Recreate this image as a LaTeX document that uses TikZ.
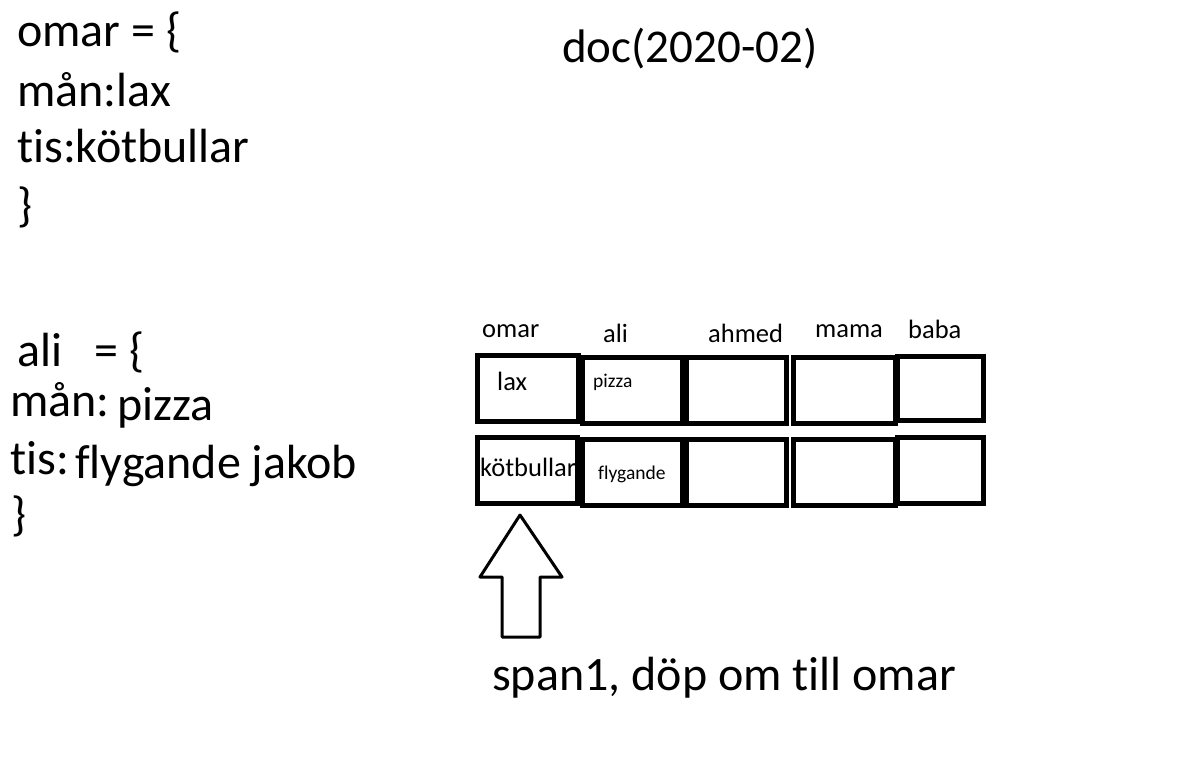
\documentclass[tikz,border=0pt]{standalone}
\usepackage{fontspec}
\setmainfont{Carlito}[Ligatures=NoCommon]
\begin{document}
\begin{tikzpicture}[x=1pt,y=-1pt,
  big/.style={anchor=base west,inner sep=0pt,font=\fontsize{48}{56}\selectfont},
  mid/.style={anchor=base west,inner sep=0pt,font=\fontsize{26.5}{30}\selectfont},
  small/.style={anchor=base west,inner sep=0pt,font=\fontsize{19.5}{22}\selectfont},
  cell/.style={draw=black,line width=5pt,fill=white}]
\useasboundingbox[fill=white] (0,0) rectangle (1181,762);
% left code text
\node[big] (t1) at (17,47) {omar = \{};
\node[big] (t2) at (17,107) {mån:lax};
\node[big] (t3) at (17,163) {tis:kötbullar};
\node[big] (t4) at (17,222) {\}};
\node[big,font=\fontsize{47}{54}\selectfont] (d) at (562,63) {doc(2020-02)};
\node[big] (a1) at (17,366) {ali~~ = \{};
\node[big] (a2) at (10,416) {mån:};
\node[big] (a2b) at (117,420) {pizza};
\node[big] (a3) at (10,474) {tis:};
\node[big] (a3b) at (75,478) {flygande jakob};
\node[big] (a4) at (11,530) {\}};
% grid
\draw[cell] (477,355) rectangle (578,421);
\draw[cell] (582,357) rectangle (682,423);
\draw[cell] (686,357) rectangle (786,423);
\draw[cell] (793,357) rectangle (895,423);
\draw[cell] (897,356) rectangle (983,420);
\draw[cell] (477,437) rectangle (577,503);
\draw[cell] (582,439) rectangle (682,505);
\draw[cell] (686,439) rectangle (786,505);
\draw[cell] (793,439) rectangle (895,505);
\draw[cell] (897,437) rectangle (983,503);
% column labels
\node[mid] (c1) at (482,337) {omar};
\node[mid] (c2) at (603,342) {ali};
\node[mid] (c3) at (708,342) {ahmed};
\node[mid] (c4) at (815,337) {mama};
\node[mid] (c5) at (908,338) {baba};
% cell texts
\node[mid] (v1) at (497,390) {lax};
\node[small] (v2) at (593,387) {pizza};
\node[mid] (v3) at (480,476) {kötbullar};
\node[small] (v4) at (598,479) {flygande};
% block arrow
\draw[line width=3pt,line join=round,fill=white] (520,515) -- (562,577) -- (540,577) -- (540,637) -- (502,637) -- (502,577) -- (480,577) -- cycle;
\node[big] (s) at (492,690) {span1, döp om till omar};
\end{tikzpicture}
\end{document}
